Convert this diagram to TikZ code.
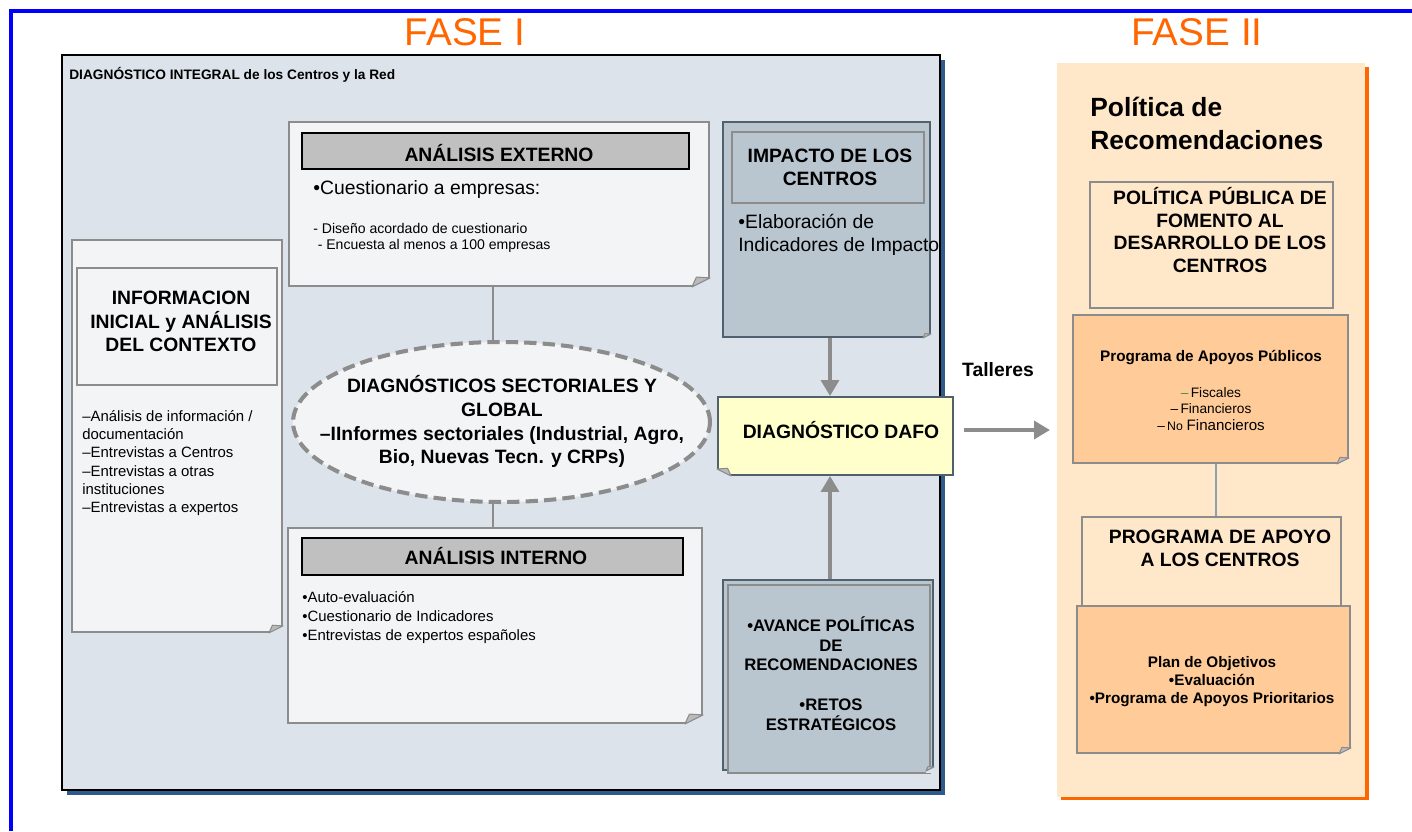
\documentclass[tikz,border=0pt]{standalone}
\usepackage{fontspec}
\setmainfont{Liberation Sans}
\usepackage{tikz}
\usetikzlibrary{shapes.geometric, arrows.meta, shadows}

\definecolor{faseorange}{HTML}{FF6600}
\definecolor{framefill}{HTML}{DCE3EA}
\definecolor{shadowblue}{HTML}{2F5B8C}
\definecolor{notefill}{HTML}{F3F4F6}
\definecolor{notegray}{HTML}{8C8C8C}
\definecolor{barfill}{HTML}{C0C0C0}
\definecolor{slatefill}{HTML}{B9C6D0}
\definecolor{slateline}{HTML}{50606E}
\definecolor{dafofill}{HTML}{FFFFCC}
\definecolor{peach}{HTML}{FFE8C9}
\definecolor{apricot}{HTML}{FFCC99}
\definecolor{linkblue}{HTML}{8DA0B3}
\definecolor{fiscalgreen}{HTML}{339933}

% folded corner: corner, direction (-1 = south east, 1 = south west), size, background
\newcommand{\dogear}[4]{%
  \fill[#4] ([shift={({#2*#3},0)}]#1) -- ([shift={({#2*#3},2)}]#1) -- ([shift={({-2*#2},2)}]#1)
    -- ([shift={({-2*#2},{-#3/2})}]#1) -- ([shift={(0,{-#3/2})}]#1) -- cycle;
  \filldraw[draw=notegray, fill=notegray!60, line width=0.6pt, line join=round]
    ([shift={({#2*#3},0)}]#1) -- ([shift={(0,{-#3/2})}]#1) -- ([shift={({#2*#3*0.75},{-#3*0.55})}]#1) -- cycle;
}

\begin{document}
\begin{tikzpicture}[x=0.02cm, y=-0.02cm,
    box/.style={rectangle, inner sep=0pt},
    note/.style={box, draw=notegray, line width=1.1pt, fill=notefill},
    bar/.style={box, draw=black, line width=1.1pt, fill=barfill},
    frame/.style={box, draw=notegray, line width=1.1pt},
    slate/.style={box, draw=slateline, line width=1.1pt, fill=slatefill},
    apricotbox/.style={box, draw=notegray, line width=1.1pt, fill=apricot},
    head/.style={inner sep=0pt, align=center, font=\bfseries\fontsize{11}{13.2}\selectfont},
    body/.style={inner sep=0pt, align=left, anchor=west},
    fase/.style={inner sep=0pt, text=faseorange, font=\fontsize{22}{26}\selectfont},
    link/.style={draw=notegray, line width=1.1pt},
    bigarrow/.style={color=notegray, line width=2.8pt, -{Triangle[width=10pt,length=9pt]}},
]
    \useasboundingbox (0,0) rectangle (1412,831);
    \draw[blue, line width=2.3pt] (11,831) -- (11,11) -- (1412,11);

    \node[fase] at (465,32) (fase1) {FASE I};
    \node[fase] at (1197,32) (fase2) {FASE II};

    % FASE I
    \node[box, fill=framefill, draw=black, line width=1.3pt, minimum width=17.56cm, minimum height=14.7cm,
          drop shadow={shadow xshift=3pt, shadow yshift=-3pt, fill=shadowblue, opacity=1}] at (501,422.5) (diag) {};
    \node[body, font=\bfseries\fontsize{7.8}{9}\selectfont] at (69,75) (diagtitle) {DIAGNÓSTICO INTEGRAL de los Centros y la Red};

    \node[note, minimum width=4.2cm, minimum height=7.84cm] at (177,436) (infonote) {};
    \node[frame, minimum width=4cm, minimum height=2.34cm] at (177,326.5) (infohead) {};
    \node[head] at (181,321.5) (infotitle) {INFORMACION\\INICIAL y ANÁLISIS\\DEL CONTEXTO};
    \node[body, font=\fontsize{8.5}{10.4}\selectfont] at (82,463) (infotext) {–Análisis de información /\\documentación\\–Entrevistas a Centros\\–Entrevistas a otras\\instituciones\\–Entrevistas a expertos};

    \node[note, minimum width=8.4cm, minimum height=3.28cm] at (499,204) (extnote) {};
    \node[bar, minimum width=7.74cm, minimum height=0.72cm] at (495.5,151) (exthead) {};
    \node[head] at (499,153) (exttitle) {ANÁLISIS EXTERNO};
    \node[body, font=\fontsize{11}{13}\selectfont] at (313,190) (extbullet) {•Cuestionario a empresas:};
    \node[body, font=\fontsize{8}{9.2}\selectfont] at (313,237.5) (exttext) {- Diseño acordado de cuestionario\\\hspace{2.5pt}- Encuesta al menos a 100 empresas};

    \node[ellipse, draw=notegray, fill=notefill, line width=2.3pt, dash pattern=on 7pt off 3.5pt,
          inner sep=0pt, minimum width=8.34cm, minimum height=3.2cm] at (501.5,422) (sector) {};
    \node[head, font=\bfseries\fontsize{11}{13.6}\selectfont] at (502,421.5) (sectortext) {DIAGNÓSTICOS SECTORIALES Y\\GLOBAL\\–IInformes sectoriales (Industrial, Agro,\\Bio, Nuevas Tecn. y CRPs)};

    \node[note, minimum width=8.28cm, minimum height=3.9cm] at (495,625.5) (intnote) {};
    \node[bar, minimum width=7.62cm, minimum height=0.74cm] at (492.5,556.5) (inthead) {};
    \node[head] at (496,556) (inttitle) {ANÁLISIS INTERNO};
    \node[body, font=\fontsize{8.5}{10.8}\selectfont] at (302,617.5) (inttext) {•Auto-evaluación\\•Cuestionario de Indicadores\\•Entrevistas de expertos españoles};

    \node[slate, minimum width=4.14cm, minimum height=4.3cm] at (826.5,229.5) (impacto) {};
    \node[frame, fill=slatefill, minimum width=3.84cm, minimum height=1.42cm] at (828,167.5) (impactohead) {};
    \node[head] at (830,167) (impactotitle) {IMPACTO DE LOS\\CENTROS};
    \node[body, font=\fontsize{11}{13}\selectfont] at (738,235) (impactotext) {•Elaboración de\\Indicadores de Impacto};

    \node[slate, fill=dafofill, minimum width=4.7cm, minimum height=1.56cm] at (835.5,436) (dafo) {};
    \node[head] at (841,430) (dafotitle) {DIAGNÓSTICO DAFO};

    \node[slate, minimum width=4.2cm, minimum height=3.8cm] at (828,675) (avanceback) {};
    \node[frame, fill=slatefill, minimum width=4.04cm, minimum height=3.76cm] at (829,679) (avance) {};
    \node[head, font=\bfseries\fontsize{9.5}{11.3}\selectfont] at (831,673.5) (avancetext) {•AVANCE POLÍTICAS\\DE\\RECOMENDACIONES\\[11.3pt]•RETOS\\ESTRATÉGICOS};

    \dogear{infonote.south east}{-1}{14}{framefill}
    \dogear{extnote.south east}{-1}{18}{framefill}
    \dogear{intnote.south east}{-1}{18}{framefill}
    \dogear{impacto.south east}{-1}{8}{framefill}
    \dogear{dafo.south west}{1}{14}{framefill}
    \dogear{avanceback.south east}{-1}{8}{framefill}

    \coordinate (sectorx) at (493,0);
    \coordinate (arrowx) at (830,0);
    \draw[link] (extnote.south -| sectorx) -- (sector.north -| sectorx);
    \draw[link] (sector.south -| sectorx) -- (intnote.north -| sectorx);
    \draw[bigarrow] (impacto.south -| arrowx) -- (dafo.north -| arrowx);
    \draw[bigarrow] (avanceback.north -| arrowx) -- (dafo.south -| arrowx);

    \node[head] at (998,370) (talleres) {Talleres};
    \coordinate (tallerend) at (1050,430);
    \draw[bigarrow, shorten <=5.6pt] (dafo.east |- tallerend) -- (tallerend);

    % FASE II
    \node[box, fill=peach, minimum width=6.16cm, minimum height=14.68cm,
          drop shadow={shadow xshift=2pt, shadow yshift=-2pt, fill=faseorange, opacity=1}] at (1211,430) (fase2panel) {};
    \node[body, font=\bfseries\fontsize{15}{18.7}\selectfont] at (1090,123.5) (politica) {Política de\\Recomendaciones};

    \node[frame, minimum width=4.86cm, minimum height=2.52cm] at (1211.5,245) (pubbox) {};
    \node[head, font=\bfseries\fontsize{11}{12.8}\selectfont] at (1220,230) (pubtext) {POLÍTICA PÚBLICA DE\\FOMENTO AL\\DESARROLLO DE LOS\\CENTROS};

    \node[apricotbox, minimum width=5.5cm, minimum height=2.96cm] at (1210.5,389) (apoyos) {};
    \node[head, font=\bfseries\fontsize{8.7}{10}\selectfont] at (1211,358) (apoyostitle) {Programa de Apoyos Públicos};
    \node[head, font=\fontsize{7.8}{9.3}\selectfont] at (1211,409) (apoyoslist) {{\color{fiscalgreen}–}\,Fiscales\\–\,Financieros\\–\,{\fontsize{7}{9.3}\selectfont No} {\fontsize{8.6}{10}\selectfont Financieros}};

    \node[frame, minimum width=5.18cm, minimum height=1.8cm] at (1211.5,562) (progbox) {};
    \node[head] at (1220,548.5) (progtext) {PROGRAMA DE APOYO\\A LOS CENTROS};

    \node[apricotbox, minimum width=5.46cm, minimum height=2.94cm] at (1213.5,679.5) (plan) {};
    \node[head, font=\bfseries\fontsize{8.7}{10.3}\selectfont] at (1212,681.5) (plantext) {Plan de Objetivos\\•Evaluación\\•Programa de Apoyos Prioritarios};

    \dogear{apoyos.south east}{-1}{12}{peach}
    \dogear{plan.south east}{-1}{12}{peach}

    \coordinate (apoyox) at (1216,0);
    \draw[linkblue, line width=1.1pt] (apoyos.south -| apoyox) -- (progbox.north -| apoyox);
\end{tikzpicture}
\end{document}
